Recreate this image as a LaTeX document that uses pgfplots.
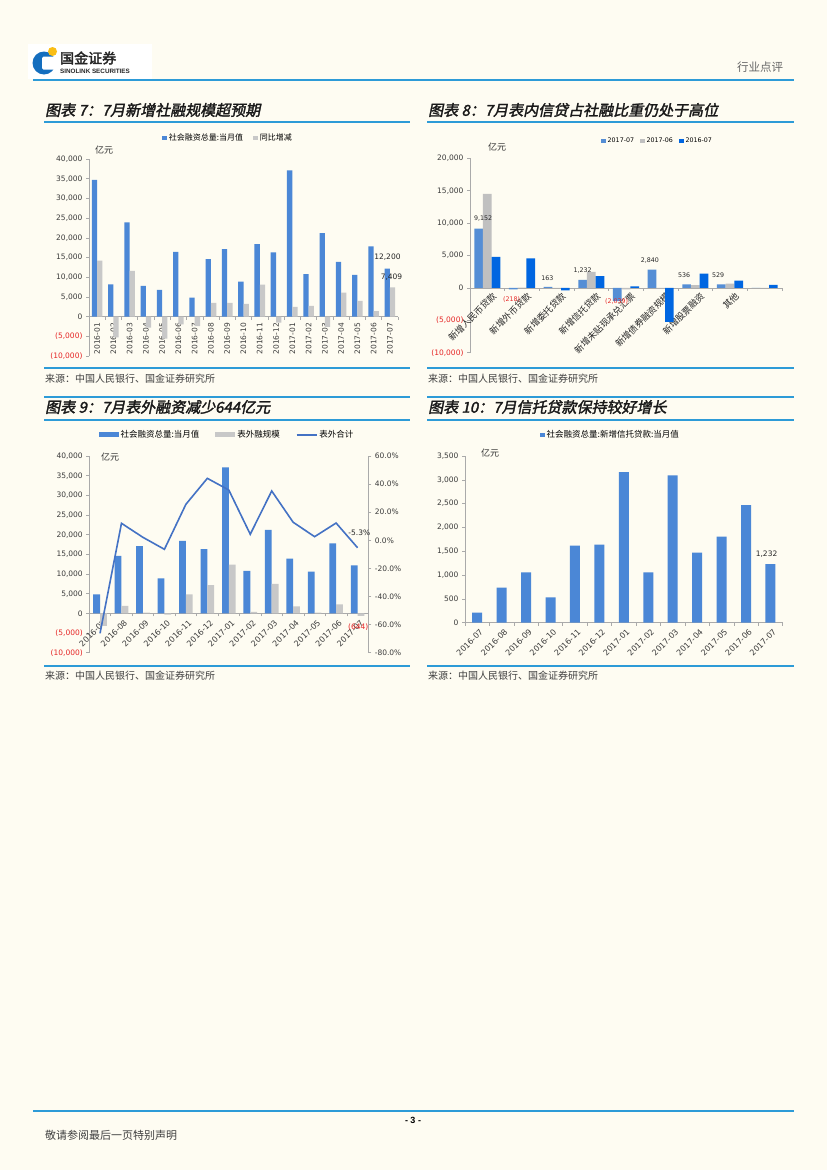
\documentclass[border=0pt]{standalone}
\usepackage{fontspec}
\usepackage{pgfplots}
\pgfplotsset{compat=1.18}
\setmainfont{Noto Sans CJK SC}
\newfontfamily\numf{DejaVu Sans}
\newfontfamily\titlef[FakeBold=2,FakeSlant=0.2]{Noto Sans CJK SC}
\newfontfamily\cjkbold[FakeBold=2.5]{Noto Sans CJK SC}
\newfontfamily\latinb{Liberation Sans}
\definecolor{bg}{RGB}{254,252,242}
\definecolor{barblue}{RGB}{75,135,214}
\definecolor{bargray}{RGB}{200,200,200}
\definecolor{cblueA}{RGB}{85,142,213}
\definecolor{cgray}{RGB}{192,192,192}
\definecolor{cblueC}{RGB}{0,102,225}
\definecolor{lineblue}{RGB}{68,114,196}
\definecolor{axisgray}{RGB}{170,170,170}
\definecolor{ticktext}{RGB}{60,60,60}
\definecolor{negred}{RGB}{230,40,40}
\definecolor{hdrblue}{RGB}{45,155,215}
\definecolor{logoblue}{RGB}{20,110,190}
\definecolor{logoyel}{RGB}{250,190,20}
\pgfplotsset{
  sqlegend/.style={legend image code/.code={\fill[##1] (0pt,-2.3pt) rectangle (4.6pt,2.3pt);}},
  widelegend/.style={legend image code/.code={\fill[##1] (0pt,-2.5pt) rectangle (20pt,2.5pt);}},
  base/.style={
    scale only axis, anchor=south west, enlargelimits=false, clip=false,
    axis y line*=left, axis x line*=middle,
    hide obscured x ticks=false, hide obscured y ticks=false,
    scaled ticks=false,
    axis line style={draw=axisgray, line width=0.7pt},
    tick style={draw=axisgray, line width=0.6pt},
    tick align=outside, major tick length=3pt,
    x tick label as interval,
    tick label style={font=\numf\fontsize{7.5}{9}\selectfont, text=ticktext},
    legend style={draw=none, fill=none, legend columns=-1, anchor=center,
      /tikz/every even column/.append style={column sep=8pt}},
    legend cell align=left,
  }
}
\begin{document}
\begin{tikzpicture}
\useasboundingbox (0pt,0pt) rectangle (827pt,-1170pt);
\fill[bg] (0pt,0pt) rectangle (827pt,-1170pt);
% ---------- header ----------
\fill[white] (28pt,-44pt) rectangle (152pt,-79pt);
\fill[logoblue] (44pt,-63pt) circle (11.5pt);
\fill[white, rounded corners=1.5pt] (42pt,-56.5pt) rectangle (56pt,-69.5pt);
\fill[logoyel] (52.5pt,-51.5pt) circle (4.5pt);
\node[anchor=west, inner sep=0pt, font=\cjkbold\fontsize{14}{15}\selectfont, text=black!85] at (60pt,-58pt) {国金证券};
\node[anchor=west, inner sep=0pt, font=\latinb\bfseries\fontsize{6.3}{7}\selectfont, text=black!85] at (60pt,-71pt) {SINOLINK SECURITIES};
\node[font=\fontsize{11.5}{12}\selectfont, text=black!60] at (760pt,-67pt) {行业点评};
\draw[hdrblue, line width=1.5pt] (33pt,-80pt) -- (794pt,-80pt);
% ---------- titles and rules ----------
\node[anchor=west, inner sep=0pt, font=\titlef\fontsize{15}{16}\selectfont, text=black!90] at (45pt,-110pt) {图表 7：7月新增社融规模超预期};
\node[anchor=west, inner sep=0pt, font=\titlef\fontsize{15}{16}\selectfont, text=black!90] at (428pt,-110pt) {图表 8：7月表内信贷占社融比重仍处于高位};
\node[anchor=west, inner sep=0pt, font=\titlef\fontsize{15}{16}\selectfont, text=black!90] at (45pt,-407pt) {图表 9：7月表外融资减少644亿元};
\node[anchor=west, inner sep=0pt, font=\titlef\fontsize{15}{16}\selectfont, text=black!90] at (428pt,-407pt) {图表 10：7月信托贷款保持较好增长};
\foreach \yy in {122,368,397,420,666} {
  \draw[hdrblue, line width=1.3pt] (44pt,-\yy pt) -- (410pt,-\yy pt);
  \draw[hdrblue, line width=1.3pt] (427pt,-\yy pt) -- (794pt,-\yy pt);
}
\foreach \xx/\yy in {45/379,428/379,45/676,428/676} {
  \node[anchor=west, inner sep=0pt, font=\fontsize{10}{11}\selectfont, text=black!75] at (\xx pt,-\yy pt) {来源：中国人民银行、国金证券研究所};
}
% ---------- footer ----------
\draw[hdrblue, line width=1.3pt] (33pt,-1111pt) -- (794pt,-1111pt);
\node[font=\latinb\bfseries\fontsize{9}{10}\selectfont] at (413pt,-1120pt) {- 3 -};
\node[anchor=west, inner sep=0pt, font=\fontsize{11}{12}\selectfont, text=black!75] at (45pt,-1135pt) {敬请参阅最后一页特别声明};

% ---------- chart 7 ----------
\begin{axis}[base,
  at={(89pt,-356pt)}, width=309pt, height=197pt,
  xmin=-0.5, xmax=18.5, ymin=-10000, ymax=40000,
  ybar=0pt, bar width=5.3pt, sqlegend,
  xtick={-0.5,0.5,...,18.5},
  xticklabels={2016-01,2016-02,2016-03,2016-04,2016-05,2016-06,2016-07,2016-08,2016-09,2016-10,2016-11,2016-12,2017-01,2017-02,2017-03,2017-04,2017-05,2017-06,2017-07},
  xticklabel style={rotate=90, anchor=east},
  ytick={-10000,-5000,...,40000},
  yticklabels={\textcolor{negred}{(10,000)},\textcolor{negred}{(5,000)},0,{5,000},{10,000},{15,000},{20,000},{25,000},{30,000},{35,000},{40,000}},
  legend style={at={(0.45,1.107)}, font=\fontsize{8}{9}\selectfont},
]
\addplot[fill=barblue, draw=none] coordinates {(0,34700) (1,8200) (2,23900) (3,7800) (4,6800) (5,16400) (6,4800) (7,14600) (8,17100) (9,8900) (10,18400) (11,16300) (12,37100) (13,10800) (14,21200) (15,13900) (16,10600) (17,17800) (18,12200)};
\addplot[fill=bargray, draw=none] coordinates {(0,14200) (1,-5300) (2,11600) (3,-2800) (4,-5600) (5,-2000) (6,-2400) (7,3500) (8,3500) (9,3200) (10,8100) (11,-1500) (12,2500) (13,2700) (14,-2600) (15,6100) (16,4000) (17,1400) (18,7409)};
\legend{社会融资总量:当月值, 同比增减}
\node[font=\numf\fontsize{7.5}{9}\selectfont, text=black!85] at (axis cs:17.85,15000) {12,200};
\node[font=\numf\fontsize{7.5}{9}\selectfont, text=black!85] at (axis cs:18.1,10100) {7,409};
\end{axis}
\node[font=\fontsize{9}{10}\selectfont, text=black!80] at (104pt,-150pt) {亿元};

% ---------- chart 8 ----------
\begin{axis}[base,
  at={(470pt,-352.7pt)}, width=312pt, height=194.4pt,
  xmin=-0.5, xmax=8.5, ymin=-10000, ymax=20000,
  ybar=0pt, bar width=8.7pt, sqlegend,
  xtick={-0.5,0.5,...,8.5},
  xticklabels={新增人民币贷款,新增外币贷款,新增委托贷款,新增信托贷款,新增未贴现承兑汇票,新增债券融资规模,新增股票融资,其他,{}},
  xticklabel style={rotate=45, anchor=north east, font=\fontsize{9}{10}\selectfont, text=black!85, xshift=6pt},
  ytick={-10000,-5000,...,20000},
  yticklabels={\textcolor{negred}{(10,000)},\textcolor{negred}{(5,000)},0,{5,000},{10,000},{15,000},{20,000}},
  legend style={at={(0.601,1.089)}, font=\numf\fontsize{6.3}{7}\selectfont,
    /tikz/every even column/.append style={column sep=4pt}},
]
\addplot[fill=cblueA, draw=none] coordinates {(0,9152) (1,-218) (2,163) (3,1232) (4,-2039) (5,2840) (6,536) (7,529) (8,0)};
\addplot[fill=cgray, draw=none] coordinates {(0,14500) (1,30) (2,-30) (3,2480) (4,-230) (5,-80) (6,410) (7,670) (8,0)};
\addplot[fill=cblueC, draw=none] coordinates {(0,4770) (1,4550) (2,-400) (3,1800) (4,250) (5,-5230) (6,2200) (7,1130) (8,460)};
\legend{2017-07, 2017-06, 2016-07}
\begin{scope}[every node/.style={font=\numf\fontsize{6.3}{7}\selectfont, text=black!85}]
\node at (axis cs:-0.12,10700) {9,152};
\node[text=negred] at (axis cs:0.70,-1744) {(218)};
\node at (axis cs:1.73,1543) {163};
\node at (axis cs:2.75,2624) {1,232};
\node[text=negred] at (axis cs:3.73,-2053) {(2,039)};
\node at (axis cs:4.69,4275) {2,840};
\node at (axis cs:5.68,2006) {536};
\node at (axis cs:6.66,1913) {529};
\end{scope}
\end{axis}
\node[font=\fontsize{9}{10}\selectfont, text=black!80] at (497pt,-147pt) {亿元};

% ---------- chart 9 ----------
\begin{axis}[base,
  at={(89.3pt,-652.7pt)}, width=279pt, height=196.7pt,
  xmin=-0.5, xmax=12.5, ymin=-10000, ymax=40000,
  ybar=0pt, bar width=6.8pt, widelegend,
  xtick={-0.5,0.5,...,12.5},
  xticklabels={2016-07,2016-08,2016-09,2016-10,2016-11,2016-12,2017-01,2017-02,2017-03,2017-04,2017-05,2017-06,2017-07},
  xticklabel style={rotate=45, anchor=north east, xshift=3pt, font=\numf\fontsize{8}{9}\selectfont},
  ytick={-10000,-5000,...,40000},
  yticklabels={\textcolor{negred}{(10,000)},\textcolor{negred}{(5,000)},0,{5,000},{10,000},{15,000},{20,000},{25,000},{30,000},{35,000},{40,000}},
  legend style={at={(0.4936,1.107)}, font=\fontsize{8.5}{9}\selectfont,
    /tikz/every even column/.append style={column sep=14pt}},
]
\addplot[fill=barblue, draw=none] coordinates {(0,4800) (1,14600) (2,17100) (3,8900) (4,18400) (5,16300) (6,37100) (7,10800) (8,21200) (9,13900) (10,10600) (11,17800) (12,12200)};
\addplot[fill=bargray, draw=none] coordinates {(0,-3200) (1,1900) (2,200) (3,-300) (4,4800) (5,7200) (6,12400) (7,400) (8,7500) (9,1800) (10,200) (11,2300) (12,-644)};
\addlegendimage{legend image code/.code={\draw[lineblue, line width=1.6pt] (0pt,0pt) -- (20pt,0pt);}}
\legend{社会融资总量:当月值, 表外融规模, 表外合计}
\node[font=\numf\fontsize{7.5}{9}\selectfont, text=negred] at (axis cs:12.03,-3560) {(644)};
\end{axis}
\begin{axis}[
  scale only axis, anchor=south west, enlargelimits=false,
  at={(89.3pt,-652.7pt)}, width=279pt, height=196.7pt,
  xmin=-0.5, xmax=12.5, ymin=-80, ymax=60,
  axis x line=none, axis y line*=right,
  axis line style={draw=axisgray, line width=0.7pt},
  tick style={draw=axisgray, line width=0.6pt},
  tick align=outside, major tick length=3pt,
  tick label style={font=\numf\fontsize{7.5}{9}\selectfont, text=ticktext},
  ytick={-80,-60,...,60},
  yticklabels={-80.0\%,-60.0\%,-40.0\%,-20.0\%,0.0\%,20.0\%,40.0\%,60.0\%},
  clip=false,
]
\addplot[lineblue, line width=1.6pt, mark=none] coordinates {(0,-66.2) (1,12.1) (2,2.1) (3,-6.4) (4,25.6) (5,44.1) (6,35.8) (7,4.3) (8,35.1) (9,12.8) (10,2.6) (11,12.3) (12,-5.3)};
\node[font=\numf\fontsize{7.5}{9}\selectfont, text=black!85] at (axis cs:12.08,5.6) {-5.3\%};
\end{axis}
\node[font=\fontsize{9}{10}\selectfont, text=black!80] at (110pt,-457pt) {亿元};

% ---------- chart 10 ----------
\begin{axis}[base,
  at={(465pt,-622.7pt)}, width=317.7pt, height=166.7pt,
  xmin=-0.5, xmax=12.5, ymin=0, ymax=3500,
  ybar, bar width=10pt, sqlegend,
  xtick={-0.5,0.5,...,12.5},
  xticklabels={2016-07,2016-08,2016-09,2016-10,2016-11,2016-12,2017-01,2017-02,2017-03,2017-04,2017-05,2017-06,2017-07},
  xticklabel style={rotate=45, anchor=north east, xshift=3pt, font=\numf\fontsize{8}{9}\selectfont},
  ytick={0,500,...,3500},
  yticklabels={0,500,{1,000},{1,500},{2,000},{2,500},{3,000},{3,500}},
  legend style={at={(0.458,1.126)}, font=\fontsize{8.5}{9}\selectfont},
]
\addplot[fill=barblue, draw=none] coordinates {(0,210) (1,735) (2,1057) (3,532) (4,1617) (5,1638) (6,3164) (7,1057) (8,3094) (9,1470) (10,1806) (11,2471) (12,1232)};
\legend{社会融资总量:新增信托贷款:当月值}
\node[font=\numf\fontsize{7.5}{9}\selectfont, text=black!85] at (axis cs:11.84,1436) {1,232};
\end{axis}
\node[font=\fontsize{9}{10}\selectfont, text=black!80] at (490pt,-453pt) {亿元};
\end{tikzpicture}
\end{document}
